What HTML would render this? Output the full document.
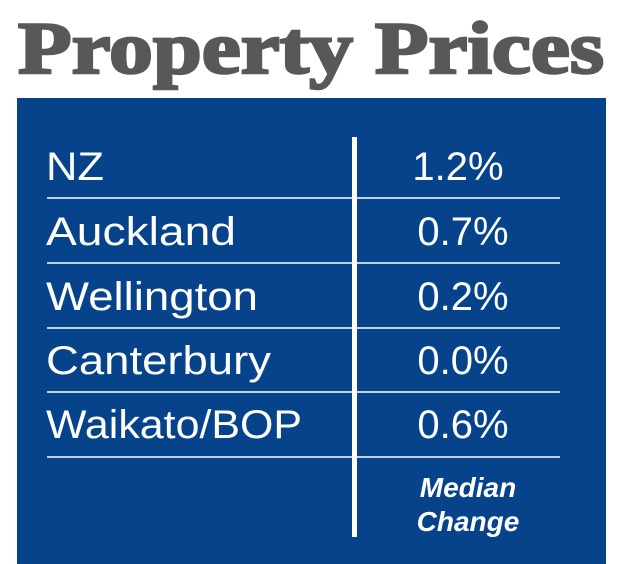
<!DOCTYPE html>
<html><head><style>
html,body{margin:0;padding:0;background:#fff;width:620px;height:564px;overflow:hidden}
</style></head><body>
<svg width="620" height="564" xmlns="http://www.w3.org/2000/svg">
<text x="18" y="73" font-family="Liberation Serif, serif" font-weight="bold" font-size="74" fill="#58585b" stroke="#58585b" stroke-width="2.5" textLength="586" lengthAdjust="spacingAndGlyphs">Property Prices</text>
<rect x="17" y="98" width="589" height="466" fill="#07438b"/>
<rect x="352" y="137" width="5" height="400" fill="#fff"/>
<g stroke="#fff" stroke-width="1.6">
<line x1="47" y1="198" x2="560" y2="198"/>
<line x1="47" y1="263" x2="560" y2="263"/>
<line x1="47" y1="328" x2="560" y2="328"/>
<line x1="47" y1="392" x2="560" y2="392"/>
<line x1="47" y1="457" x2="560" y2="457"/>
</g>
<g font-family="Liberation Sans, sans-serif" font-size="40" fill="#fff">
<text x="46" y="180" textLength="58" lengthAdjust="spacingAndGlyphs">NZ</text>
<text x="46" y="245" textLength="190" lengthAdjust="spacingAndGlyphs">Auckland</text>
<text x="46" y="310" textLength="212" lengthAdjust="spacingAndGlyphs">Wellington</text>
<text x="46" y="374" textLength="225" lengthAdjust="spacingAndGlyphs">Canterbury</text>
<text x="46" y="438" textLength="256" lengthAdjust="spacingAndGlyphs">Waikato/BOP</text>
<g text-anchor="middle">
<text x="458" y="180">1.2%</text>
<text x="463" y="245">0.7%</text>
<text x="463" y="310">0.2%</text>
<text x="463" y="374">0.0%</text>
<text x="463" y="438">0.6%</text>
</g>
</g>
<g font-family="Liberation Sans, sans-serif" font-size="28" font-style="italic" font-weight="bold" fill="#fff" text-anchor="middle">
<text x="468" y="497">Median</text>
<text x="468" y="531">Change</text>
</g>
</svg>
</body></html>
